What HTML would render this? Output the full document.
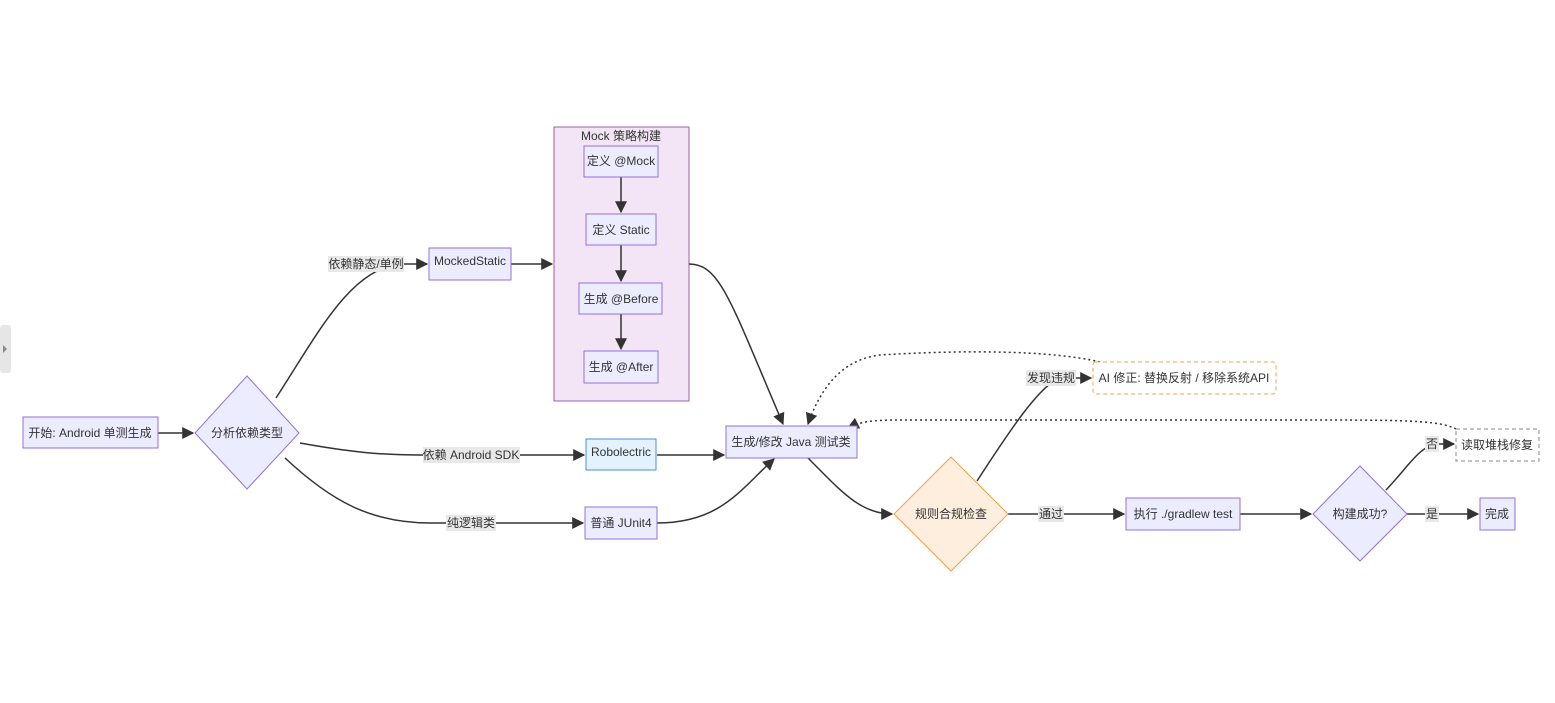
<!DOCTYPE html>
<html><head><meta charset="utf-8"><style>
html,body{margin:0;padding:0;background:#fff;width:1555px;height:703px;overflow:hidden}
svg text{font-family:"Liberation Sans","Noto Sans CJK SC",sans-serif;font-size:12px;fill:#333}
</style></head><body>
<svg width="1555" height="703" viewBox="0 0 1555 703" xmlns="http://www.w3.org/2000/svg">
<defs>
<marker id="a" viewBox="0 0 10 10" refX="9" refY="5" markerWidth="8" markerHeight="8" orient="auto"><path d="M0,0L10,5L0,10z" fill="#333"/></marker>
</defs>
<rect x="0" y="325" width="11" height="48" rx="3" fill="#e6e6e6"/>
<path d="M3,345l4,4l-4,4z" fill="#888"/>
<!-- cluster -->
<rect x="554" y="127" width="135" height="274" fill="#f3e5f5" stroke="#9c5fb0" stroke-width="1"/>
<text x="621" y="140" text-anchor="middle">Mock 策略构建</text>
<g fill="none" stroke="#333" stroke-width="1.5">
<path d="M158,433H193" marker-end="url(#a)"/>
<path d="M276,398C320,330 350,270 400,264H427" marker-end="url(#a)"/>
<path d="M511,264H552" marker-end="url(#a)"/>
<path d="M621,177V212" marker-end="url(#a)"/>
<path d="M621,245V281" marker-end="url(#a)"/>
<path d="M621,314V349" marker-end="url(#a)"/>
<path d="M689,264C720,264 730,300 783,424" marker-end="url(#a)"/>
<path d="M300,443C350,452 380,455 420,455H584" marker-end="url(#a)"/>
<path d="M285,458C330,500 370,523 430,523H583" marker-end="url(#a)"/>
<path d="M657,455H724" marker-end="url(#a)"/>
<path d="M657,523C720,523 740,490 774,459" marker-end="url(#a)"/>
<path d="M808,458C840,490 860,514 892,514" marker-end="url(#a)"/>
<path d="M977,481C1010,430 1040,385 1060,378H1091" marker-end="url(#a)"/>
<path d="M1008,514H1124" marker-end="url(#a)"/>
<path d="M1240,514H1311" marker-end="url(#a)"/>
<path d="M1386,490C1410,465 1420,444 1440,444H1454" marker-end="url(#a)"/>
<path d="M1407,514H1478" marker-end="url(#a)"/>
</g>
<g fill="none" stroke="#333" stroke-width="1.5" stroke-dasharray="2,3">
<path d="M1100,362C1050,350 960,350 880,355C840,360 820,390 808,424" marker-end="url(#a)"/>
<path d="M1456,429C1440,420 1400,420 1300,420H900C870,420 860,422 848,428" marker-end="url(#a)"/>
</g>
<!-- edge labels -->
<g>
<rect x="328" y="256" width="76" height="16" fill="#e8e8e8"/><text x="366" y="268" text-anchor="middle">依赖静态/单例</text>
<rect x="423" y="447" width="97" height="16" fill="#e8e8e8"/><text x="471" y="459" text-anchor="middle">依赖 Android SDK</text>
<rect x="446" y="515" width="50" height="16" fill="#e8e8e8"/><text x="471" y="527" text-anchor="middle">纯逻辑类</text>
<rect x="1026" y="370" width="50" height="16" fill="#e8e8e8"/><text x="1051" y="382" text-anchor="middle">发现违规</text>
<rect x="1038" y="506" width="26" height="16" fill="#e8e8e8"/><text x="1051" y="518" text-anchor="middle">通过</text>
<rect x="1425" y="436" width="14" height="16" fill="#e8e8e8"/><text x="1432" y="448" text-anchor="middle">否</text>
<rect x="1425" y="506" width="14" height="16" fill="#e8e8e8"/><text x="1432" y="518" text-anchor="middle">是</text>
</g>
<!-- nodes -->
<g stroke="#9370db" stroke-width="1" fill="#ececff">
<rect x="23" y="417" width="135" height="31"/>
<polygon points="247,376 299,433 247,489 195,433"/>
<rect x="429" y="248" width="82" height="32"/>
<rect x="584" y="146" width="74" height="31"/>
<rect x="586" y="214" width="70" height="31"/>
<rect x="579" y="283" width="83" height="31"/>
<rect x="584" y="351" width="74" height="32"/>
<rect x="585" y="507" width="72" height="32"/>
<rect x="726" y="426" width="131" height="32"/>
<rect x="1126" y="498" width="114" height="32"/>
<polygon points="1360,466 1407,514 1360,561 1313,514"/>
<rect x="1480" y="498" width="35" height="32"/>
</g>
<rect x="586" y="439" width="70" height="31" fill="#e3f2fd" stroke="#4a90d9"/>
<polygon points="951,457 1008,514 951,571 894,514" fill="#fdeedd" stroke="#f0a050"/>
<rect x="1093" y="362" width="183" height="32" rx="3" fill="#fff" stroke="#f0a050" stroke-dasharray="4,3"/>
<rect x="1456" y="429" width="83" height="32" fill="#fff" stroke="#888" stroke-dasharray="4,3"/>
<g text-anchor="middle">
<text x="90" y="437">开始: Android 单测生成</text>
<text x="247" y="437">分析依赖类型</text>
<text x="470" y="265">MockedStatic</text>
<text x="621" y="165">定义 @Mock</text>
<text x="621" y="234">定义 Static</text>
<text x="621" y="303">生成 @Before</text>
<text x="621" y="371">生成 @After</text>
<text x="621" y="456">Robolectric</text>
<text x="621" y="527">普通 JUnit4</text>
<text x="791" y="446">生成/修改 Java 测试类</text>
<text x="951" y="518">规则合规检查</text>
<text x="1184" y="382">AI 修正: 替换反射 / 移除系统API</text>
<text x="1183" y="518">执行 ./gradlew test</text>
<text x="1360" y="518">构建成功?</text>
<text x="1497" y="449">读取堆栈修复</text>
<text x="1497" y="518">完成</text>
</g>
</svg>
</body></html>
